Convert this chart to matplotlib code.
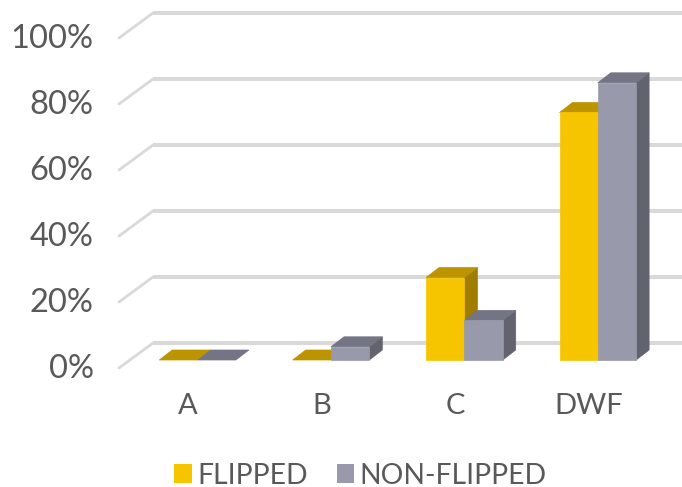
import matplotlib
matplotlib.use("Agg")
import matplotlib.pyplot as plt
from matplotlib.patches import Polygon, Patch

categories = ["A", "B", "C", "DWF"]
series_names = ["FLIPPED", "NON-FLIPPED"]
flipped = [0, 0, 25, 75]
non_flipped = [0, 4, 12, 84]
y_ticks = [0, 20, 40, 60, 80, 100]
y_labels = ["0%", "20%", "40%", "60%", "80%", "100%"]

W, H = 682, 487
PX_X = 133.4      # pixels per category
PX_Y = 3.3        # pixels per percent
X0_PX, Y0_PX = 197.6, 360.0

plt.rcParams["font.family"] = ["Lato", "DejaVu Sans"]
TEXT = "#595959"
GRID = "#d9d9d9"
FRONT = ["#f7c400", "#9899ab"]
TOP = ["#bc9400", "#747584"]
SIDE = ["#a07c00", "#62636f"]

fig = plt.figure(figsize=(W / 100, H / 100), dpi=100)
ax = fig.add_axes([0, 0, 1, 1])
ax.set_xlim(-X0_PX / PX_X, (W - X0_PX) / PX_X)
ax.set_ylim((Y0_PX - H) / PX_Y, Y0_PX / PX_Y)
ax.axis("off")

dx = lambda px: px / PX_X
dy = lambda px: px / PX_Y

# 3-D wall gridlines (front stub + back wall line)
for t, lab in zip(y_ticks, y_labels):
    fy = t - dy(8)
    by = t + dy(17)
    fx = dx(119 - X0_PX)
    bx = dx(153 - X0_PX)
    ax.plot([fx, bx], [fy, by], color=GRID, lw=2.0, solid_capstyle="round", zorder=1)
    ax.plot([bx, dx(W - X0_PX)], [by, by], color=GRID, lw=2.9, solid_capstyle="butt", zorder=1)
    ax.annotate(lab, (fx, fy), xytext=(93.5 - 119, -1.5), textcoords="offset pixels",
                ha="right", va="center", fontsize=23.5, color=TEXT)

BAR_W = 38.3 / PX_X
DX, DY = dx(13), dy(10)


def bar3d(left, value, k):
    right = left + BAR_W
    if value > 0:
        ax.add_patch(Polygon([(right, 0), (right + DX, DY), (right + DX, value + DY), (right, value)],
                             fc=SIDE[k], ec=SIDE[k], lw=0.5, zorder=3))
    ax.add_patch(Polygon([(left, value), (left + DX, value + DY), (right + DX, value + DY), (right, value)],
                         fc=TOP[k], ec=TOP[k], lw=0.5, zorder=3))
    if value > 0:
        ax.add_patch(Polygon([(left, 0), (right, 0), (right, value), (left, value)],
                             fc=FRONT[k], ec=FRONT[k], lw=0.5, zorder=3))


for i, cat in enumerate(categories):
    bar3d(i - BAR_W, flipped[i], 0)
    bar3d(i, non_flipped[i], 1)
    ax.annotate(cat, (i, 0), xytext=(-9.5, -46), textcoords="offset pixels",
                ha="center", va="center", fontsize=21, color=TEXT)

handles = [Patch(fc=FRONT[0], ec="none"), Patch(fc=FRONT[1], ec="none")]
leg = ax.legend(handles, series_names, loc="center", bbox_to_anchor=(360.5 / W, 1 - 475.5 / H),
                ncol=2, frameon=False, fontsize=20.3, labelcolor=TEXT,
                handlelength=0.62, handleheight=0.62, handletextpad=0.19,
                columnspacing=1.045, borderpad=0, borderaxespad=0)

fig.savefig("out.png", dpi=100)
